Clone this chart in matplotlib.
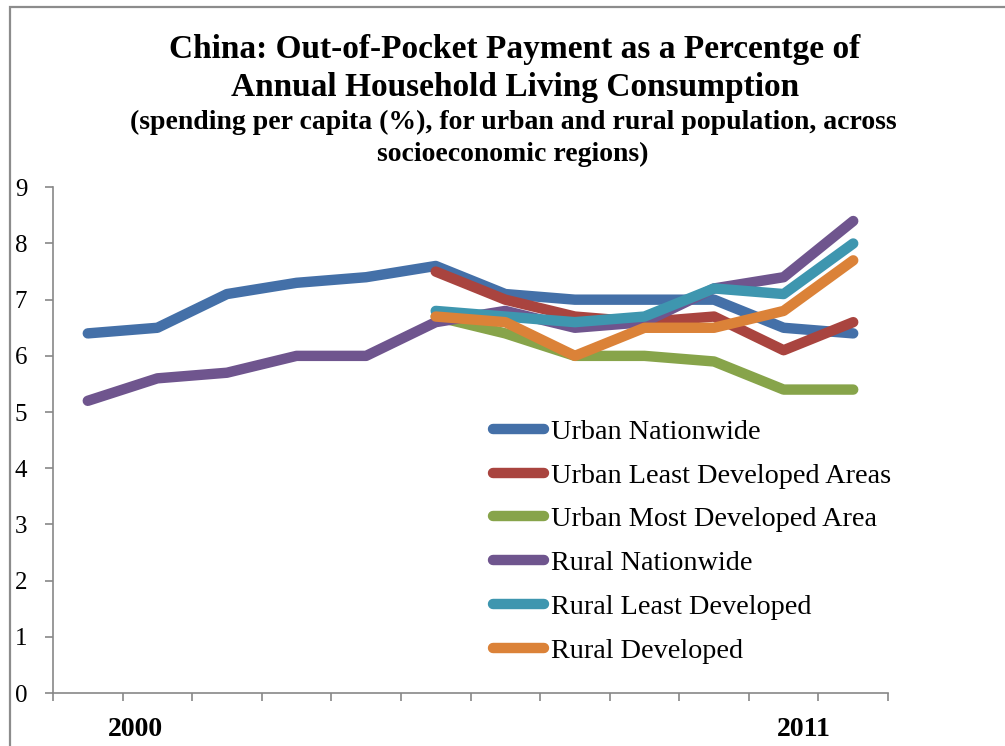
import numpy as np
import matplotlib
matplotlib.use("Agg")
import matplotlib.pyplot as plt
from matplotlib.patches import Rectangle
from matplotlib.transforms import blended_transform_factory

# ---- data: out-of-pocket payment as % of household living consumption ----
years = list(range(2000, 2012))
nan = np.nan

urban_nationwide = [6.4, 6.5, 7.1, 7.3, 7.4, 7.6, 7.1, 7.0, 7.0, 7.0, 6.5, 6.4]
urban_least_dev = [nan, nan, nan, nan, nan, 7.5, 7.0, 6.7, 6.6, 6.7, 6.1, 6.6]
urban_most_dev = [nan, nan, nan, nan, nan, 6.7, 6.4, 6.0, 6.0, 5.9, 5.4, 5.4]
rural_nationwide = [5.2, 5.6, 5.7, 6.0, 6.0, 6.6, 6.8, 6.5, 6.6, 7.2, 7.4, 8.4]
rural_least_dev = [nan, nan, nan, nan, nan, 6.8, 6.7, 6.6, 6.7, 7.2, 7.1, 8.0]
rural_developed = [nan, nan, nan, nan, nan, 6.7, 6.6, 6.0, 6.5, 6.5, 6.8, 7.7]

series_names = [
    "Urban Nationwide",
    "Urban Least Developed Areas",
    "Urban Most Developed Area",
    "Rural Nationwide",
    "Rural Least Developed",
    "Rural Developed",
]
series_values = [urban_nationwide, urban_least_dev, urban_most_dev,
                 rural_nationwide, rural_least_dev, rural_developed]
series_colors = ["#4470A8", "#A9443F", "#87A44A", "#6F558E", "#3E96AF", "#DB8238"]

shown_years = ["2000", "2011"]
shown_year_pos = [0.69, 10.29]

title_lines = ["China: Out-of-Pocket Payment as a Percentge of",
               "Annual Household Living Consumption"]
subtitle_lines = ["(spending per capita (%), for urban and rural population, across",
                  "socioeconomic regions)"]

# ---- style ----
plt.rcParams["font.family"] = ["Liberation Serif", "DejaVu Serif"]
GRAY = "#878787"

W, H = 1005, 746
fig = plt.figure(figsize=(W / 100, H / 100), dpi=100)

# chart border (runs off the right/bottom edge)
fig.patches.append(Rectangle((10 / W, -0.1), 1.2, 1.1 - 7.5 / H,
                             transform=fig.transFigure, fill=False,
                             edgecolor="#8C8C8C", linewidth=1.6))

ax = fig.add_axes([53 / W, 1 - 693 / H, (888 - 53) / W, (693 - 187.3) / H])

x = np.arange(len(years))
for name, vals, col in zip(series_names, series_values, series_colors):
    ax.plot(x, vals, color=col, lw=7.5, solid_capstyle="round",
            solid_joinstyle="round", label=name)

ax.set_xlim(-0.5, len(years) - 0.5)
ax.set_ylim(0, 9)
ax.set_yticks(range(0, 10))
ax.set_xticks(np.arange(-0.5, len(years), 1.0))
ax.set_xticklabels([])

for s in ["top", "right"]:
    ax.spines[s].set_visible(False)
for s in ["left", "bottom"]:
    ax.spines[s].set_color(GRAY)
    ax.spines[s].set_linewidth(1.2)

ax.tick_params(axis="both", direction="out", length=6, width=1.2, color=GRAY)
ax.tick_params(axis="y", labelsize=18, pad=12.5)

# only first and last year carry a label
trans = blended_transform_factory(ax.transData, ax.transAxes)
for lab, pos in zip(shown_years, shown_year_pos):
    ax.text(pos, -0.073, lab, transform=trans, ha="center", va="center",
            fontsize=20, fontweight="bold")

# titles
fig.text(515 / W, 1 - 58 / H, title_lines[0], ha="center", va="baseline",
         fontsize=24, fontweight="bold")
fig.text(515 / W, 1 - 96 / H, title_lines[1], ha="center", va="baseline",
         fontsize=24, fontweight="bold")
fig.text(513 / W, 1 - 129 / H, subtitle_lines[0], ha="center", va="baseline",
         fontsize=20, fontweight="bold")
fig.text(513 / W, 1 - 161 / H, subtitle_lines[1], ha="center", va="baseline",
         fontsize=20, fontweight="bold")

leg = ax.legend(loc="upper left", bbox_to_anchor=(493 / W, 1 - 419 / H),
                bbox_transform=fig.transFigure, frameon=False, fontsize=20.3,
                handlelength=1.8, handletextpad=0.25, labelspacing=0.64,
                borderpad=0, borderaxespad=0)
for h in leg.get_lines():
    h.set_solid_capstyle("round")
    h.set_linewidth(7.5)

fig.savefig("out.png", dpi=100)
